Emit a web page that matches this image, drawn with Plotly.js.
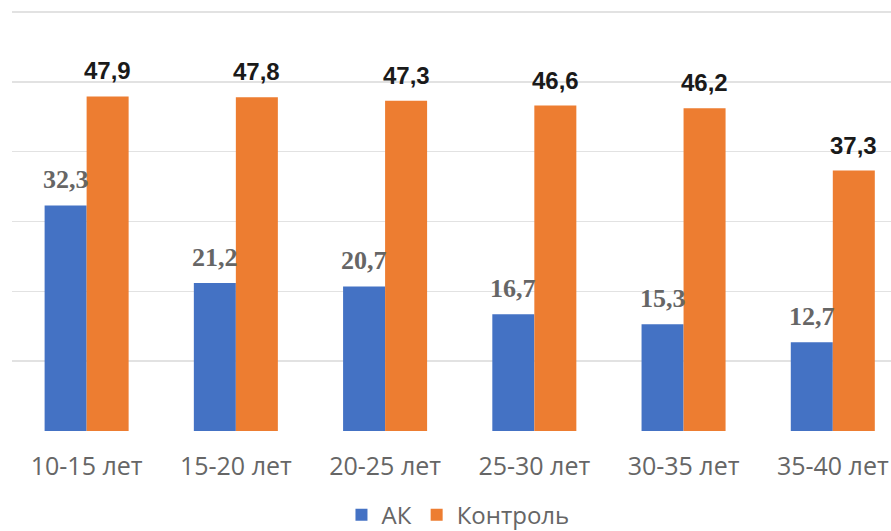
<!DOCTYPE html>
<html>
<head>
<meta charset="utf-8">
<script src="https://cdn.plot.ly/plotly-3.0.1.min.js"></script>
<style>html,body{margin:0;padding:0;background:#fff;}#chart{width:891px;height:531px;}</style>
</head>
<body>
<div id="chart"></div>
<script>
var categories = ["10-15 лет", "15-20 лет", "20-25 лет", "25-30 лет", "30-35 лет", "35-40 лет"];
var akValues = [32.3, 21.2, 20.7, 16.7, 15.3, 12.7];
var controlValues = [47.9, 47.8, 47.3, 46.6, 46.2, 37.3];
var seriesNames = ["АК", "Контроль"];

function fmt(v){ return v.toFixed(1).replace('.', ','); }

var traces = [
  {type:'bar', name:seriesNames[0], x:categories, y:akValues, marker:{color:'#4472C4'}, hoverinfo:'none'},
  {type:'bar', name:seriesNames[1], x:categories, y:controlValues, marker:{color:'#ED7D31'}, hoverinfo:'none'}
];

var annotations = [];
categories.forEach(function(c, i){
  annotations.push({xref:'x', yref:'y', x:c, y:akValues[i], xshift:-21, yshift:9, yanchor:'bottom', showarrow:false,
    text:fmt(akValues[i]), font:{family:'Liberation Serif, serif', size:26, color:'#666666', weight:'bold'}});
  annotations.push({xref:'x', yref:'y', x:c, y:controlValues[i], xshift:21, yshift:10, yanchor:'bottom', showarrow:false,
    text:'<b>'+fmt(controlValues[i])+'</b>', font:{family:'Liberation Sans, Arial, sans-serif', size:24, color:'#1a1a1a'}});
});

var layout = {
  width:891, height:531,
  margin:{l:12, r:0, t:5, b:100},
  paper_bgcolor:'#ffffff', plot_bgcolor:'#ffffff',
  barmode:'group', bargap:0.437, bargroupgap:0,
  showlegend:true,
  legend:{orientation:'h', xref:'container', x:0.514, xanchor:'center', yref:'container', y:0.03, yanchor:'middle',
    font:{family:'Open Sans, Liberation Sans, sans-serif', size:24, color:'#666666'}, itemwidth:30, traceorder:'normal'},
  xaxis:{type:'category', range:[-0.5, 5.39], showgrid:false, zeroline:false, showline:false, ticks:'',
    ticklabelstandoff:18,
    tickfont:{family:'Open Sans, Liberation Sans, sans-serif', size:25, color:'#666666'}},
  yaxis:{range:[0,61], tickvals:[0,10,20,30,40,50,60], showgrid:true, gridcolor:'#e2e2e2', gridwidth:1.5, zeroline:false, showline:false,
    showticklabels:false, ticks:''},
  annotations:annotations,
  font:{family:'Open Sans, Liberation Sans, sans-serif'}
};

Plotly.newPlot('chart', traces, layout, {displayModeBar:false, staticPlot:true});
</script>
</body>
</html>
